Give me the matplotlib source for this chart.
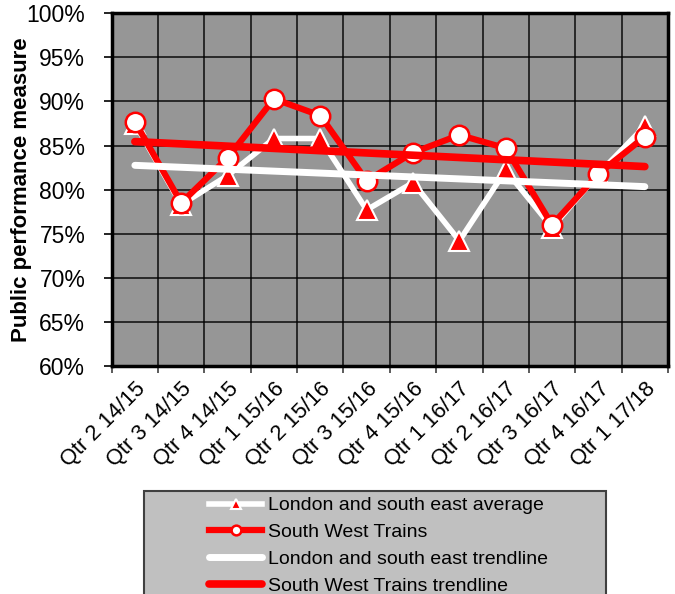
import numpy as np
import matplotlib
matplotlib.use('Agg')
import matplotlib.pyplot as plt
import matplotlib.transforms as mtransforms
from matplotlib.patches import Rectangle

plt.rcParams['font.family'] = ['Liberation Sans', 'DejaVu Sans']

# quarters shown on the x axis
quarters = ['Qtr 2 14/15', 'Qtr 3 14/15', 'Qtr 4 14/15', 'Qtr 1 15/16', 'Qtr 2 15/16',
            'Qtr 3 15/16', 'Qtr 4 15/16', 'Qtr 1 16/17', 'Qtr 2 16/17', 'Qtr 3 16/17',
            'Qtr 4 16/17', 'Qtr 1 17/18']

# public performance measure (%)
lse_average = [87.5, 78.3, 81.6, 85.8, 85.8, 77.7, 80.8, 74.2, 82.2, 75.7, 81.8, 87.2]
swt = [87.7, 78.5, 83.6, 90.3, 88.4, 81.0, 84.2, 86.2, 84.7, 76.0, 81.8, 86.0]

y_ticks = [60, 65, 70, 75, 80, 85, 90, 95, 100]

RED = '#ff0000'

fig = plt.figure(figsize=(6.75, 5.94), dpi=100)
ax = fig.add_axes([111.7 / 675, 1 - 366 / 594, (668 - 111.7) / 675, (366 - 13.3) / 594])
ax.set_facecolor('#969696')

x = np.arange(len(quarters))

# data series
ax.plot(x, lse_average, color='white', lw=4, marker='^', markersize=14,
        markerfacecolor=RED, markeredgecolor='white', markeredgewidth=1.5, zorder=3,
        label='London and south east average')
ax.plot(x, swt, color=RED, lw=4.5, marker='o', markersize=14,
        markerfacecolor='white', markeredgecolor=RED, markeredgewidth=1.8, zorder=4,
        label='South West Trains')

# linear trendlines
lse_fit = np.polyfit(x, lse_average, 1)
swt_fit = np.polyfit(x, swt, 1)
ax.plot(x, np.polyval(lse_fit, x), color='white', lw=5, solid_capstyle='round', zorder=5,
        label='London and south east trendline')
ax.plot(x, np.polyval(swt_fit, x), color=RED, lw=5.5, solid_capstyle='round', zorder=6,
        label='South West Trains trendline')

# axes / grid
ax.set_xlim(-0.5, len(quarters) - 0.5)
ax.set_ylim(60, 100)
ax.set_yticks(y_ticks)
ax.set_yticklabels([f'{v}%' for v in y_ticks], fontsize=16.5)
ax.set_xticks(np.arange(-0.5, len(quarters), 1.0))
ax.set_xticklabels([])
ax.set_xticks(x, minor=True)
ax.set_xticklabels(quarters, minor=True, rotation=45, ha='right', va='top',
                   rotation_mode='anchor', fontsize=15.8)
# nudge the rotated labels a little to the left
offset = mtransforms.ScaledTranslation(-3 / 100, 0, fig.dpi_scale_trans)
for lab in ax.get_xticklabels(minor=True):
    lab.set_transform(lab.get_transform() + offset)
ax.tick_params(axis='x', which='minor', length=0, pad=9)
ax.tick_params(axis='x', which='major', length=5, width=1.2, color='#404040')
ax.tick_params(axis='y', length=6, width=1.2, pad=13)
ax.grid(True, which='major', color='black', lw=1.2, alpha=0.85)
ax.set_axisbelow(True)
for s in ax.spines.values():
    s.set_linewidth(2.5)
    s.set_color('black')

ax.set_ylabel('Public performance measure', fontsize=16, fontweight='bold')
ax.yaxis.set_label_coords(-0.144, 0.5)

# legend box
fig.add_artist(Rectangle((144 / 675, -10 / 594), (606 - 144) / 675, (594 - 491 + 10) / 594,
                         transform=fig.transFigure, facecolor='#c0c0c0',
                         edgecolor='#404040', lw=1.5, zorder=0))
leg = fig.legend(loc='upper left', bbox_to_anchor=(205 / 675, 1 - 493 / 594),
                 frameon=False, fontsize=14, markerscale=0.5, handlelength=2.75,
                 handletextpad=0.3, labelspacing=0.47, borderpad=0.2, borderaxespad=0)

fig.savefig('out.png', dpi=100)
